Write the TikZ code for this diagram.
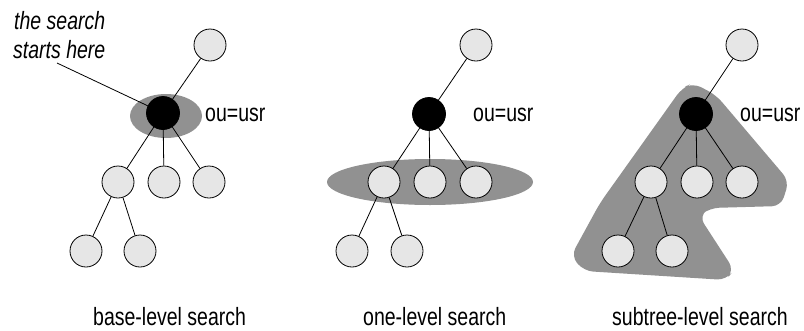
\documentclass[tikz,border=0pt]{standalone}
\usepackage{fontspec}
\setmainfont{Liberation Sans}[FakeStretch=0.78]
\definecolor{nodegray}{RGB}{230,230,230}
\definecolor{areagray}{RGB}{145,145,145}
\begin{document}
\begin{tikzpicture}[x=1pt,y=-1pt,
  entry/.style={circle,draw=black,line width=0.8pt,fill=nodegray,minimum size=32pt,inner sep=0pt},
  start/.style={circle,draw=black,line width=0.8pt,fill=black,minimum size=33pt,inner sep=0pt},
  link/.style={line width=0.8pt,black},
  area/.style={fill=areagray,draw=none},
  lbl/.style={inner sep=0pt,anchor=base west,font=\fontsize{25}{29}\selectfont}
]
\useasboundingbox (0,0) rectangle (804,330);

% ---------- base-level search ----------
\fill[area] (166,116) ellipse [x radius=36, y radius=22];
\node[entry] (a0) at (210,45) {};
\node[start] (a1) at (163,113) {};
\node[entry] (a2) at (118,182) {};
\node[entry] (a3) at (164,182) {};
\node[entry] (a4) at (209,182) {};
\node[entry] (a5) at (86,251) {};
\node[entry] (a6) at (140,251) {};
\draw[link] (a0) -- (a1);
\draw[link] (a1) -- (a2);
\draw[link] (a1) -- (a3);
\draw[link] (a1) -- (a4);
\draw[link] (a2) -- (a5);
\draw[link] (a2) -- (a6);
\node[lbl] (ta) at (205,121) {ou=usr};
\node[lbl,font=\fontsize{25}{29}\selectfont\itshape] (s1) at (14,29) {the search};
\node[lbl,font=\fontsize{25}{29}\selectfont\itshape] (s2) at (13,58) {starts here};
\coordinate (lead) at (57,63);
\draw[link] (lead) -- (a1);
\node[lbl] (ca) at (93,325) {base-level search};

% ---------- one-level search ----------
\fill[area] (430,182) ellipse [x radius=103, y radius=23];
\node[entry] (b0) at (476,45) {};
\node[start] (b1) at (429,114) {};
\node[entry] (b2) at (384,182) {};
\node[entry] (b3) at (430,182) {};
\node[entry] (b4) at (476,182) {};
\node[entry] (b5) at (352,251) {};
\node[entry] (b6) at (407,251) {};
\draw[link] (b0) -- (b1);
\draw[link] (b1) -- (b2);
\draw[link] (b1) -- (b3);
\draw[link] (b1) -- (b4);
\draw[link] (b2) -- (b5);
\draw[link] (b2) -- (b6);
\node[lbl] (tb) at (473,121) {ou=usr};
\node[lbl] (cb) at (363,325) {one-level search};

% ---------- subtree-level search ----------
\fill[area,rounded corners=9pt]
  (693,83) -- (716,95) -- (789,181) -- (781,206) -- (710,208) -- (699,216)
  -- (734,270) -- (726,280) -- (584,271) -- (571,256) -- (600,203) -- (682,88) -- cycle;
\node[entry] (c0) at (742,45) {};
\node[start] (c1) at (696,114) {};
\node[entry] (c2) at (651,182) {};
\node[entry] (c3) at (697,182) {};
\node[entry] (c4) at (742,182) {};
\node[entry] (c5) at (618,251) {};
\node[entry] (c6) at (672,251) {};
\draw[link] (c0) -- (c1);
\draw[link] (c1) -- (c2);
\draw[link] (c1) -- (c3);
\draw[link] (c1) -- (c4);
\draw[link] (c2) -- (c5);
\draw[link] (c2) -- (c6);
\node[lbl] (tc) at (740,121) {ou=usr};
\node[lbl] (cc) at (612,325) {subtree-level search};
\end{tikzpicture}
\end{document}
